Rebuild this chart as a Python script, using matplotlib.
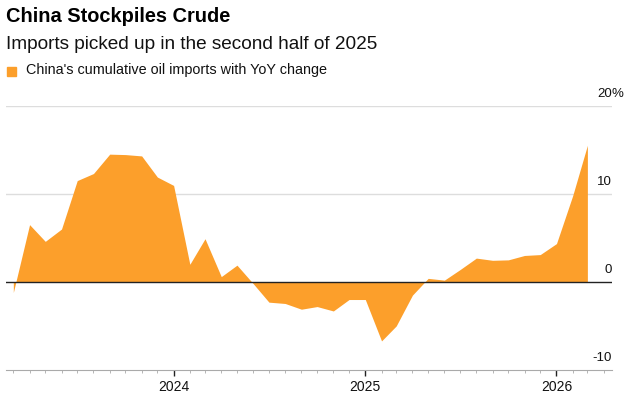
import matplotlib
matplotlib.use("Agg")
import matplotlib.pyplot as plt
import matplotlib.dates as mdates
import pandas as pd

plt.rcParams["font.family"] = ["Liberation Sans", "DejaVu Sans"]

# monthly cumulative YoY change, %
months = pd.date_range("2023-03-01", "2026-03-01", freq="MS")
yoy_change = [
    -1.2, 6.5, 4.6, 6.0, 11.5, 12.3, 14.5, 14.45, 14.3, 11.9,
    10.95, 2.0, 4.9, 0.6, 1.9, -0.2, -2.3, -2.45, -3.1, -2.8,
    -3.3, -2.0, -2.0, -6.7, -5.0, -1.5, 0.4, 0.2, 1.4, 2.7,
    2.45, 2.5, 3.0, 3.1, 4.35, 9.8, 15.5,
]
y_ticks = [-10, 0, 10, 20]
y_labels = ["-10", "0", "10", "20"]

orange = "#fc9f2b"
W, H = 632, 395

fig = plt.figure(figsize=(W / 100, H / 100), dpi=100)
ax = fig.add_axes([6 / W, 1 - 370 / H, (612 - 6) / W, (370 - 105.7) / H])

ax.fill_between(months, yoy_change, 0, color=orange, linewidth=0, zorder=2)

ax.set_xlim(pd.Timestamp("2023-02-15"), pd.Timestamp("2026-04-17"))
ax.set_ylim(-10, 20)

for v in y_ticks[1:]:
    if v == 0:
        ax.axhline(0, color="#222222", linewidth=1.0, zorder=3)
    else:
        ax.axhline(v, color="#dddddd", linewidth=1.0, zorder=1)

for v, lab in zip(y_ticks, y_labels):
    ax.annotate(lab, xy=(1.0, v), xycoords=ax.get_yaxis_transform(),
                xytext=(0, 4), textcoords="offset points",
                ha="right", va="bottom", fontsize=9.5, color="#111111")
ax.annotate("%", xy=(1.0, 20), xycoords=ax.get_yaxis_transform(),
            xytext=(0, 4), textcoords="offset points",
            ha="left", va="bottom", fontsize=9.5, color="#111111")

ax.set_yticks([])
for s in ["top", "left", "right"]:
    ax.spines[s].set_visible(False)
ax.spines["bottom"].set_color("#aaaaaa")
ax.spines["bottom"].set_linewidth(0.8)

ax.xaxis.set_major_locator(mdates.YearLocator())
ax.xaxis.set_major_formatter(mdates.DateFormatter("%Y"))
ax.xaxis.set_minor_locator(mdates.MonthLocator())
ax.tick_params(axis="x", which="major", length=4, width=1.0, color="#222222",
               labelsize=10, labelcolor="#111111", pad=3)
ax.tick_params(axis="x", which="minor", length=2, width=0.6, color="#aaaaaa")

fig.text(6 / W, 1 - 21.7 / H, "China Stockpiles Crude", fontsize=14.4,
         fontweight="bold", color="#000000", va="baseline")
fig.text(6 / W, 1 - 49 / H, "Imports picked up in the second half of 2025",
         fontsize=13.7, color="#111111", va="baseline")
fig.patches.append(plt.Rectangle((7 / W, 1 - 75.5 / H), 9 / W, 9 / H,
                                 transform=fig.transFigure, color=orange))
fig.text(26 / W, 1 - 74 / H, "China's cumulative oil imports with YoY change",
         fontsize=10.4, color="#111111", va="baseline")

fig.savefig("out.png", dpi=100)
